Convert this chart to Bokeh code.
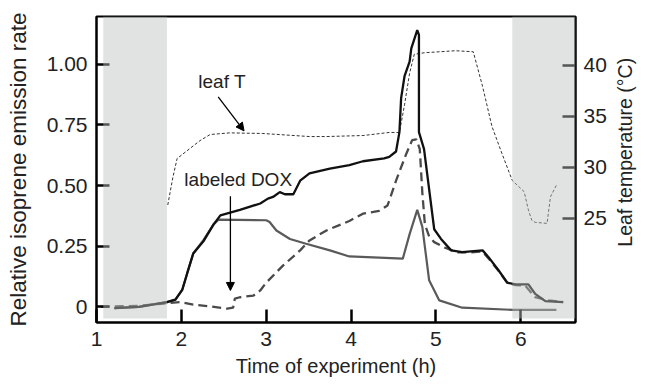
import math
from bokeh.plotting import figure
from bokeh.models import Range1d, LinearAxis, FixedTicker, BoxAnnotation, Arrow, NormalHead, Label
from bokeh.embed import file_html
from bokeh.resources import INLINE

# ---- data ----
total_x = [1.21, 1.5, 1.83, 1.93, 2.01, 2.07, 2.14, 2.26, 2.38, 2.46, 2.69, 2.93, 3.02, 3.08, 3.16, 3.22,
           3.32, 3.40, 3.51, 3.75, 3.98, 4.14, 4.39, 4.45, 4.53, 4.57, 4.59, 4.63, 4.69, 4.71, 4.78, 4.80,
           4.80, 4.86, 4.98, 5.06, 5.18, 5.31, 5.55, 5.62, 5.74, 5.84, 5.94, 6.09, 6.17, 6.29, 6.50]
total_y = [-0.005, 0.0, 0.02, 0.03, 0.07, 0.14, 0.22, 0.27, 0.34, 0.377, 0.40, 0.426, 0.446, 0.453, 0.473, 0.464,
           0.464, 0.52, 0.55, 0.57, 0.584, 0.60, 0.612, 0.618, 0.64, 0.72, 0.86, 0.95, 1.01, 1.065, 1.14, 1.12,
           0.72, 0.65, 0.32, 0.28, 0.233, 0.226, 0.233, 0.205, 0.15, 0.10, 0.093, 0.093, 0.054, 0.024, 0.02]

unlab_x = [1.21, 1.5, 1.83, 1.93, 2.01, 2.07, 2.14, 2.26, 2.38, 2.44, 3.0, 3.04, 3.12, 3.28, 3.47, 3.75, 3.98,
           4.33, 4.61, 4.69, 4.78, 4.84, 4.88, 4.92, 5.04, 5.31, 5.90, 6.42]
unlab_y = [-0.005, 0.0, 0.02, 0.03, 0.07, 0.14, 0.22, 0.275, 0.34, 0.36, 0.357, 0.35, 0.315, 0.28, 0.26, 0.233, 0.208,
           0.203, 0.199, 0.30, 0.40, 0.33, 0.22, 0.11, 0.027, -0.003, -0.012, -0.012]

lab_x = [1.05, 1.5, 1.76, 1.99, 2.14, 2.34, 2.54, 2.61, 2.63, 2.69, 2.85, 2.93, 3.0, 3.20, 3.40, 3.51, 3.71, 3.98,
         4.14, 4.33, 4.43, 4.53, 4.65, 4.72, 4.77, 4.81, 4.84, 4.87, 4.92, 4.98, 5.10, 5.25, 5.40, 5.55, 5.62,
         5.74, 5.84, 5.94, 6.05, 6.17, 6.33, 6.50]
lab_y = [0.0, 0.005, 0.013, 0.02, 0.01, 0.002, -0.007, -0.003, 0.034, 0.04, 0.047, 0.068, 0.10, 0.171, 0.233, 0.274,
         0.315, 0.354, 0.384, 0.396, 0.418, 0.52, 0.63, 0.687, 0.69, 0.65, 0.47, 0.34, 0.29, 0.267, 0.245, 0.225,
         0.225, 0.228, 0.20, 0.148, 0.10, 0.09, 0.089, 0.04, 0.027, 0.02]

temp_x = [1.84, 1.90, 1.95, 2.05, 2.22, 2.34, 2.57, 2.96, 3.51, 3.71, 4.14, 4.45, 4.57, 4.63, 4.69, 4.745, 4.86,
          5.23, 5.44, 5.55, 5.66, 5.78, 5.90, 6.04, 6.09, 6.13, 6.17, 6.31, 6.35, 6.43]
temp_y = [26.3, 29.0, 30.85, 31.5, 32.6, 33.2, 33.36, 33.3, 33.0, 33.0, 33.1, 33.4, 33.4, 36.1, 39.2, 41.05, 41.2,
          41.4, 41.3, 37.9, 34.0, 31.3, 28.7, 27.6, 25.8, 24.8, 24.6, 24.5, 27.1, 28.4]

x_ticks = [1, 2, 3, 4, 5, 6]
y_ticks = [0, 0.25, 0.5, 0.75, 1.0]
y_tick_labels = ["0", "0.25", "0.50", "0.75", "1.00"]
t_ticks = [25, 30, 35, 40]

dark_periods = [(1.08, 1.83), (5.90, 6.645)]

FONT = "Liberation Sans"

p = figure(width=649, height=386, x_range=Range1d(1.0, 6.645), y_range=Range1d(-0.064, 1.196),
           output_backend="svg", toolbar_location=None,
           min_border_left=96, min_border_right=72, min_border_top=16, min_border_bottom=64)
p.extra_y_ranges = {"temp": Range1d(14.8, 44.75)}
p.xgrid.visible = False
p.ygrid.visible = False
p.outline_line_color = "black"
p.outline_line_width = 2
p.background_fill_color = "white"
p.border_fill_color = "white"

p.add_layout(LinearAxis(y_range_name="temp"), "right")

for ax in p.axis:
    ax.major_tick_in = 13
    ax.major_tick_out = 0
    ax.minor_tick_line_color = None
    ax.axis_line_color = "black"
    ax.axis_line_width = 2
    ax.major_tick_line_color = "black"
    ax.major_tick_line_width = 2.5
    ax.major_label_text_font = FONT
    ax.major_label_text_font_size = "21px"
    ax.major_label_text_color = "#222222"
    ax.axis_label_text_font = FONT
    ax.axis_label_text_font_size = "20px"
    ax.axis_label_text_font_style = "normal"
    ax.axis_label_text_color = "#222222"

xa = p.xaxis[0]
xa.ticker = FixedTicker(ticks=x_ticks)
xa.axis_label = "Time of experiment (h)"
xa.major_label_standoff = 9
xa.axis_label_standoff = 6

ya = p.yaxis[0]
ya.ticker = FixedTicker(ticks=y_ticks)
ya.major_label_overrides = {float(t): s for t, s in zip(y_ticks, y_tick_labels)}
ya.axis_label = "Relative isoprene emission rate"
ya.axis_label_text_font_size = "22.5px"
ya.major_label_standoff = 9
ya.axis_label_standoff = 13

ra = p.yaxis[1]
ra.ticker = FixedTicker(ticks=t_ticks)
ra.major_label_standoff = 8
# bottom-to-top title anchored at the axis start; leading no-break spaces lift it
ra.axis_label = "\u00a0" * 14 + "Leaf temperature (°C)"
ra.axis_label_text_font_size = "19.5px"
ra.axis_label_standoff = 15
ra.axis_label_orientation = math.pi / 2
ra.axis_label_align = "start"

p.line(temp_x, temp_y, y_range_name="temp", line_color="#333333", line_width=1, line_dash="3 2")
p.line(unlab_x, unlab_y, line_color="#5a5a5a", line_width=2.2)
p.line(lab_x, lab_y, line_color="#4a4a4a", line_width=2.3, line_dash="9 5")
p.line(total_x, total_y, line_color="#111111", line_width=2.3)

for l, r in dark_periods:
    p.add_layout(BoxAnnotation(left=l, right=r, bottom=-0.048, top=1.196, fill_color="#bcbebe",
                               fill_alpha=0.45, line_alpha=0, level="overlay"))

p.add_layout(Label(x=2.48, y=0.93, text="leaf T", text_font=FONT, text_font_size="19px",
                   text_color="#222222", text_align="center", text_baseline="middle"))
p.add_layout(Label(x=2.67, y=0.526, text="labeled DOX", text_font=FONT, text_font_size="19px",
                   text_color="#222222", text_align="center", text_baseline="middle"))
p.add_layout(Arrow(end=NormalHead(size=8, fill_color="black", line_color="black"),
                   x_start=2.434, y_start=0.865, x_end=2.739, y_end=0.725, line_width=1.3))
p.add_layout(Arrow(end=NormalHead(size=8, fill_color="black", line_color="black"),
                   x_start=2.578, y_start=0.456, x_end=2.578, y_end=0.068, line_width=1.3))

open("out.html", "w").write(file_html(p, INLINE))
